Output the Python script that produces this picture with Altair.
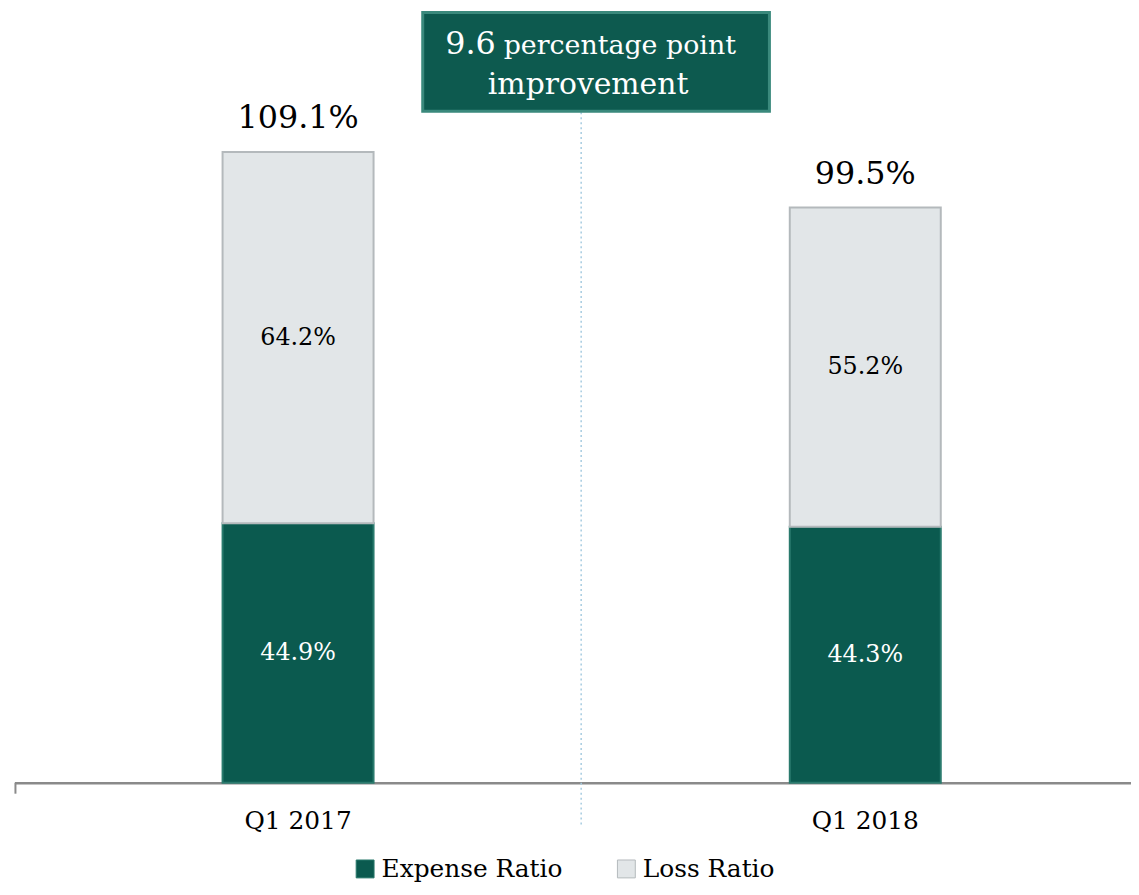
import altair as alt
import pandas as pd

quarters = ["Q1 2017", "Q1 2018"]
expense_ratio = [44.9, 44.3]
loss_ratio = [64.2, 55.2]
combined_ratio = [109.1, 99.5]
series_names = ["Expense Ratio", "Loss Ratio"]
series_colors = ["#0b5a4f", "#e2e6e8"]
series_edges = ["#2a7a6d", "#b4b9bc"]
callout_texts = ["9.6", "percentage point", "improvement"]

FONT = "DejaVu Serif"

rows = []
for q, e, l in zip(quarters, expense_ratio, loss_ratio):
    rows.append(dict(quarter=q, series=series_names[0], start=0.0, end=e,
                     mid=e / 2, label=f"{e:.1f}%"))
    rows.append(dict(quarter=q, series=series_names[1], start=e, end=e + l,
                     mid=e + l / 2, label=f"{l:.1f}%"))
seg = pd.DataFrame(rows)
tot = pd.DataFrame({"quarter": quarters, "total": combined_ratio,
                    "label": [f"{v:.1f}%" for v in combined_ratio]})

xscale = alt.Scale(domain=quarters, range=[0, 1142],
                   paddingInner=0.7338, paddingOuter=0.3669)
yscale = alt.Scale(domain=[0, 133.5], nice=False, zero=True)

x_enc = alt.X("quarter:N", scale=xscale, sort=quarters,
              axis=alt.Axis(title=None, labelAngle=0, labelFont=FONT,
                            labelFontSize=25, labelColor="#000000",
                            domainColor="#8a8a8a", domainWidth=2.5,
                            ticks=False, labelPadding=26, grid=False))

bars = alt.Chart(seg).mark_bar(strokeWidth=2).encode(
    x=x_enc,
    y=alt.Y("start:Q", scale=yscale, axis=None),
    y2="end:Q",
    color=alt.Color("series:N",
                    scale=alt.Scale(domain=series_names, range=series_colors),
                    legend=alt.Legend(title=None, orient="none",
                                      direction="horizontal",
                                      legendX=340.5, legendY=851,
                                      symbolType="square", symbolSize=324,
                                      symbolStrokeColor="#b0b5b8",
                                      symbolStrokeWidth=1,
                                      labelFont=FONT, labelFontSize=25,
                                      labelColor="#000000", labelOffset=4,
                                      labelLimit=0,
                                      columnPadding=51, padding=0)),
    stroke=alt.Stroke("series:N",
                      scale=alt.Scale(domain=series_names, range=series_edges),
                      legend=None),
)

seg_labels = alt.Chart(seg).mark_text(font=FONT, fontSize=24,
                                      baseline="middle").encode(
    x=alt.X("quarter:N", scale=xscale, sort=quarters),
    y=alt.Y("mid:Q", scale=yscale),
    text="label:N",
    color=alt.condition(alt.datum.series == series_names[0],
                        alt.value("#ffffff"), alt.value("#000000")),
)

tot_labels = alt.Chart(tot).mark_text(font=FONT, fontSize=32,
                                      baseline="alphabetic", dy=-24,
                                      color="#000000").encode(
    x=alt.X("quarter:N", scale=xscale, sort=quarters),
    y=alt.Y("total:Q", scale=yscale),
    text="label:N",
)

divider = alt.Chart(pd.DataFrame({"k": [0]})).mark_rule(
    color="#a6cbe0", strokeWidth=1.5, strokeDash=[2, 3]).encode(
    x=alt.value(570.5), y=alt.value(102), y2=alt.value(822))

left_tick = alt.Chart(pd.DataFrame({"k": [0]})).mark_rule(
    color="#8a8a8a", strokeWidth=2).encode(
    x=alt.value(1), y=alt.value(777), y2=alt.value(788))

box = alt.Chart(pd.DataFrame({"k": [0]})).mark_rect(
    fill="#0d5a4f", stroke="#3a897c", strokeWidth=3).encode(
    x=alt.value(411), x2=alt.value(760), y=alt.value(1.5), y2=alt.value(101))

c1 = alt.Chart(pd.DataFrame({"t": [callout_texts[0]]})).mark_text(
    font=FONT, fontSize=32, color="#ffffff", align="right",
    baseline="alphabetic").encode(
    text="t:N", x=alt.value(484.5), y=alt.value(43))
c2 = alt.Chart(pd.DataFrame({"t": [callout_texts[1]]})).mark_text(
    font=FONT, fontSize=27, color="#ffffff", align="left",
    baseline="alphabetic").encode(
    text="t:N", x=alt.value(492.5), y=alt.value(43))
c3 = alt.Chart(pd.DataFrame({"t": [callout_texts[2]]})).mark_text(
    font=FONT, fontSize=30, color="#ffffff", align="center",
    baseline="alphabetic").encode(
    text="t:N", x=alt.value(577.5), y=alt.value(84))

chart = alt.layer(divider, left_tick, bars, seg_labels, tot_labels, box,
                  c1, c2, c3).properties(
    width=1124, height=777,
    padding={"left": 6.5, "top": 0, "right": 0, "bottom": 102},
    autosize=alt.AutoSizeParams(type="none"),
).configure_view(stroke=None)

chart.save("out.html", embed_options={"renderer": "svg", "actions": False})
